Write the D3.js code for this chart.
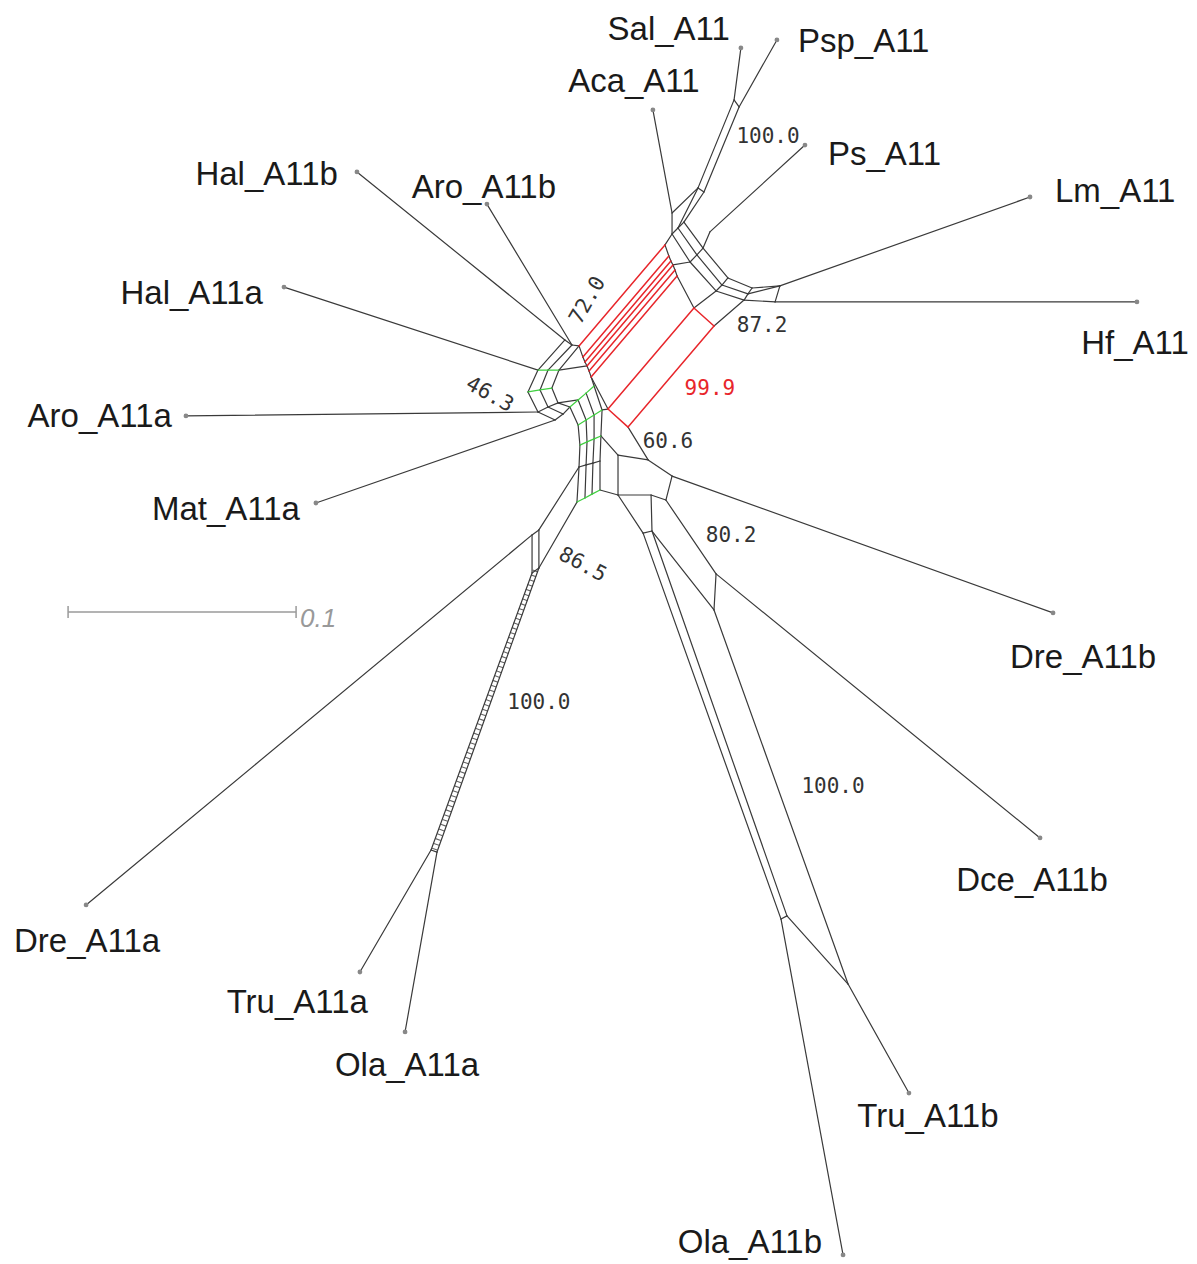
<!DOCTYPE html>
<html>
<head>
<meta charset="utf-8">
<script src="https://cdn.jsdelivr.net/npm/d3@7"></script>
<style>
  body { margin: 0; background: #fff; }
  svg { display: block; }
  .taxon { font-family: "Liberation Sans", Arial, Helvetica, sans-serif; font-size: 33px; fill: #1a1a1a; }
  .support { font-family: "DejaVu Sans Mono", monospace; font-size: 21px; fill: #333; }
  .scalelabel { font-family: "Liberation Sans", Arial, sans-serif; font-style: italic; font-size: 26px; fill: #999; }
</style>
</head>
<body>
<div id="net"></div>
<script>
// all coordinates in units of 0.001 substitutions/site, origin at the network centre, y up

// taxa and their leaf positions
var taxa = ["Sal_A11","Psp_A11","Aca_A11","Ps_A11","Lm_A11","Hf_A11",
            "Hal_A11b","Aro_A11b","Hal_A11a","Aro_A11a","Mat_A11a",
            "Dre_A11a","Tru_A11a","Ola_A11a","Ola_A11b","Tru_A11b","Dce_A11b","Dre_A11b"];
var leafX = [61.8, 77.6, 23.2, 89.9, 188.6, 235.5, -106.6, -49.6, -138.6, -181.6, -124.6,
             -225.4, -105.3, -85.5, 106.6, 135.5, 193.0, 198.7];
var leafY = [163.2, 166.7, 136.0, 120.6, 97.8, 51.8, 108.8, 94.7, 58.3, 1.8, -36.4,
             -212.7, -242.1, -268.4, -366.2, -295.2, -183.3, -84.6];
var leafAttach = ["A1","A2","A5","A6","B1","B2","a1","b1","a2","a4","a5",
                  "X1","Y1","Y2","T1","J","K1","De"];

// internal nodes of the split network
var nodes = [
  ["A1",58.8,140.4],["A2",61.0,137.3],["A3",43.0,101.8],["A4",45.6,100.0],["A5",31.6,90.8],["A6",48.2,82.5],
  ["o1",36.8,86.8],["o2",45.2,75.4],["o3",56.1,62.3],["o4",66.7,57.9],
  ["m1",34.2,84.2],["m2",42.5,72.4],["m3",53.5,59.2],["m4",64.9,55.3],
  ["i1",31.6,81.6],["i2",39.5,69.3],["i3",50.9,56.6],["i4",63.2,52.6],
  ["B1",78.9,58.8],["B2",76.8,51.8],
  ["P1",-9.2,32.5],["P2",-7.5,27.6],["P2a",-6.6,25.4],["P3",-5.7,23.7],["P3a",-4.8,21.5],["P4",-3.9,18.9],["P5",3.5,4.8],["P6",12.3,-3.1],
  ["a1",-15.4,35.1],["a2",-27.2,21.9],["a3",-31.6,12.3],["a4",-27.2,3.5],["a5",-19.7,0],
  ["b1",-12.3,32.9],["b2",-22.8,21.9],["b3",-26.3,13.2],["b4",-22.8,5.7],["b5",-16.2,2.6],
  ["c2",-18.0,21.9],["c3",-21.1,14.0],["c4",-18.4,7.5],["c5",-13.2,5.7],
  ["s1b",-9.6,-2.2],["s1c",-8.8,-11.0],["s1d",-9.2,-20.6],["s1e",-10.1,-36.0],
  ["s2a",-9.6,8.8],["s2b",-6.1,0],["s2c",-5.7,-9.6],["s2d",-6.1,-19.7],["s2e",-6.6,-34.2],
  ["s3a",-6.1,11.8],["s3b",-2.6,2.2],["s3c",-2.6,-8.3],["s3d",-3.1,-18.9],["s3e",-3.5,-32.5],
  ["s4a",-2.6,14.9],["s4b",0.9,4.4],["s4c",0.4,-7.0],["s4d",0,-18.0],["s4e",0,-30.7],
  ["X1",-29.8,-50.4],["X2",-26.8,-48.2],["X3",-29.8,-67.1],["X4",-26.8,-64.9],
  ["Y1",-74.1,-188.6],["Y2",-71.5,-189.5],
  ["Vt",7.9,-15.4],["Vb",7.9,-32.9],["Dn",21.1,-17.5],["De",31.6,-24.6],["Ds",28.9,-35.1],["F2",22.4,-32.9],
  ["E1",18.9,-49.6],["E2",22.8,-48.7],["K1",50.9,-67.5],["K2",50.0,-83.3],
  ["T1",79.4,-218.9],["T2",82.0,-217.5],["J",108.8,-247.4]
];

// the highlighted (99.9) split: feet on one side, common edge vector
var redFeet = ["P1","P2","P2a","P3","P3a","P4","P5","P6"];
var redSplit = [37.7, 44.3];

// ladders: parallel strands, rungs drawn at every station ("g" = green rung)
var ladders = [
  {strands: [["o1","o2","o3","o4"],["m1","m2","m3","m4"],["i1","i2","i3","i4"]], rungs: "kkkk"},
  {strands: [["a1","a2","a3","a4","a5"],["b1","b2","b3","b4","b5"],["P1","c2","c3","c4","c5"]], rungs: "kggkk"},
  {strands: [["c5","s1b","s1c","s1d","s1e"],["s2a","s2b","s2c","s2d","s2e"],
             ["s3a","s3b","s3c","s3d","s3e"],["s4a","s4b","s4c","s4d","s4e"]], rungs: "gggkg"}
];

// remaining edges
var edges = [
  ["A1","A2","k"],["A1","A3","k"],["A2","A4","k"],["A3","A4","k"],["A5","A3","k"],["A5","i1","k"],
  ["A3","m1","k"],["A4","o1","k"],["A6","o2","k"],["o4","B1","k"],["m4","B1","k"],["i4","B2","k"],["B1","B2","k"],
  ["i1","P1'","k"],["i2","P3'","k"],["i3","P5'","k"],["i4","P6'","k"],
  ["P1","P2","k"],["P2","P2a","k"],["P2a","P3","k"],["P3","P3a","k"],["P3a","P4","k"],["P4","P5","k"],["P5","P6","r"],
  ["P1'","P2'","k"],["P2'","P2a'","k"],["P2a'","P3'","k"],["P3'","P3a'","k"],["P3a'","P4'","k"],["P4'","P5'","k"],["P5'","P6'","r"],
  ["c2","P3","k"],["c4","s2a","k"],["P4","s4a","k"],["P5","s4b","k"],
  ["s4c","Vt","k"],["s4e","Vb","k"],["Vt","Vb","k"],["Vt","Dn","k"],["Vb","F2","k"],
  ["P6","Dn","k"],["Dn","De","k"],["De","Ds","k"],["Ds","F2","k"],["F2","E2","k"],["Vb","E1","k"],["E1","E2","k"],
  ["Ds","K1","k"],["E2","K2","k"],["K1","K2","k"],["K2","J","k"],
  ["E1","T1","k"],["E2","T2","k"],["T1","T2","k"],["T2","J","k"],
  ["X1","X2","k"],["X1","X3","k"],["X2","X4","k"],["X3","X4","k"],["X2","s1d","k"],["X4","s1e","k"],
  ["X3","Y1","k"],["X4","Y2","k"],["Y1","Y2","k"]
];
// band drawn with many tiny cross edges
var hatchBands = [[["X3","X4"],["Y1","Y2"]]];

// bootstrap support values and where they sit
var supportText  = ["100.0","72.0","87.2","99.9","46.3","60.6","80.2","86.5","100.0","100.0"];
var supportX     = [73.7, -5.7, 71.1, 48.2, -48.2, 29.8, 57.5, -7.5, -26.8, 102.2];
var supportY     = [124.6, 52.6, 41.7, 14.0, 11.4, -9.2, -50.4, -63.2, -123.7, -160.5];
var supportAngle = [0, -60, 0, 0, 29, 0, 0, 28, 0, 0];
var supportRed   = [false, false, false, true, false, false, false, false, false, false];

var scaleBarLength = 100;          // 0.1 substitutions/site
var scaleBarStart = [-233.3, -84.2];

// label offsets in pixels [dx, dy, anchor]
var labelPlace = [[-11,-8,"end"],[21,12,"start"],[-19,-18,"middle"],[23,20,"start"],[25,5,"start"],[-2,52,"middle"],
                  [-19,13,"end"],[-3,-6,"middle"],[-21,17,"end"],[-14,11,"end"],[-16,17,"end"],
                  [1,47,"middle"],[8,41,"end"],[2,44,"middle"],[-21,-2,"end"],[19,34,"middle"],[-8,53,"middle"],[30,55,"middle"]];

var W = 1197, H = 1264;
var x = d3.scaleLinear().domain([0, 100]).range([600, 828]);
var y = d3.scaleLinear().domain([0, 100]).range([420, 192]);

var pos = {};
nodes.forEach(function(n) { pos[n[0]] = [n[1], n[2]]; });
redFeet.forEach(function(f) { pos[f + "'"] = [pos[f][0] + redSplit[0], pos[f][1] + redSplit[1]]; });
taxa.forEach(function(t, i) { pos[t] = [leafX[i], leafY[i]]; });

var allEdges = edges.slice();
taxa.forEach(function(t, i) { allEdges.push([t, leafAttach[i], "k"]); });
redFeet.forEach(function(f) { allEdges.push([f, f + "'", "r"]); });
ladders.forEach(function(L) {
    L.strands.forEach(function(s) {
        for (var i = 1; i < s.length; i++) allEdges.push([s[i-1], s[i], "k"]);
    });
    for (var j = 0; j < L.strands[0].length; j++) {
        for (var k = 1; k < L.strands.length; k++)
            allEdges.push([L.strands[k-1][j], L.strands[k][j], L.rungs[j]]);
    }
});

var colour = {k: "#3a3a3a", g: "#3fcf3f", r: "#e8262b"};
var order = {k: 0, g: 1, r: 2};
allEdges.sort(function(a, b) { return order[a[2]] - order[b[2]]; });

var svg = d3.select("#net").append("svg").attr("width", W).attr("height", H);

// hatched band
hatchBands.forEach(function(b) {
    var p0 = [(pos[b[0][0]][0] + pos[b[0][1]][0]) / 2, (pos[b[0][0]][1] + pos[b[0][1]][1]) / 2];
    var p1 = [(pos[b[1][0]][0] + pos[b[1][1]][0]) / 2, (pos[b[1][0]][1] + pos[b[1][1]][1]) / 2];
    svg.append("line")
        .attr("x1", x(p0[0])).attr("y1", y(p0[1]))
        .attr("x2", x(p1[0])).attr("y2", y(p1[1]))
        .attr("stroke", "#666").attr("stroke-width", 5.5)
        .attr("stroke-dasharray", "1.1,4");
});

svg.append("g").selectAll("line")
    .data(allEdges)
    .enter().append("line")
    .attr("x1", function(d) { return x(pos[d[0]][0]); })
    .attr("y1", function(d) { return y(pos[d[0]][1]); })
    .attr("x2", function(d) { return x(pos[d[1]][0]); })
    .attr("y2", function(d) { return y(pos[d[1]][1]); })
    .attr("stroke", function(d) { return colour[d[2]]; })
    .attr("stroke-width", function(d) { return d[2] === "r" ? 1.5 : 1.2; })
    .attr("stroke-linecap", "round");

// leaf dots
svg.append("g").selectAll("circle")
    .data(taxa)
    .enter().append("circle")
    .attr("cx", function(d, i) { return x(leafX[i]); })
    .attr("cy", function(d, i) { return y(leafY[i]); })
    .attr("r", 2.4)
    .attr("fill", "#888");

// taxon labels
svg.append("g").selectAll("text")
    .data(taxa)
    .enter().append("text")
    .attr("class", "taxon")
    .attr("x", function(d, i) { return x(leafX[i]) + labelPlace[i][0]; })
    .attr("y", function(d, i) { return y(leafY[i]) + labelPlace[i][1]; })
    .attr("text-anchor", function(d, i) { return labelPlace[i][2]; })
    .text(function(d) { return d; });

// support values
svg.append("g").selectAll("text")
    .data(supportText)
    .enter().append("text")
    .attr("class", "support")
    .attr("text-anchor", "middle")
    .attr("dominant-baseline", "central")
    .attr("transform", function(d, i) {
        return "translate(" + x(supportX[i]) + "," + y(supportY[i]) + ") rotate(" + supportAngle[i] + ")";
    })
    .style("fill", function(d, i) { return supportRed[i] ? "#e8262b" : null; })
    .text(function(d) { return d; });

// scale bar
var sx0 = x(scaleBarStart[0]), sx1 = x(scaleBarStart[0] + scaleBarLength), sy = y(scaleBarStart[1]);
var bar = svg.append("g").attr("stroke", "#9a9a9a").attr("stroke-width", 1.5);
bar.append("line").attr("x1", sx0).attr("x2", sx1).attr("y1", sy).attr("y2", sy);
bar.append("line").attr("x1", sx0).attr("x2", sx0).attr("y1", sy - 6).attr("y2", sy + 6);
bar.append("line").attr("x1", sx1).attr("x2", sx1).attr("y1", sy - 6).attr("y2", sy + 6);
svg.append("text").attr("class", "scalelabel")
    .attr("x", sx1 + 4).attr("y", sy + 15)
    .text("0.1");
</script>
</body>
</html>
